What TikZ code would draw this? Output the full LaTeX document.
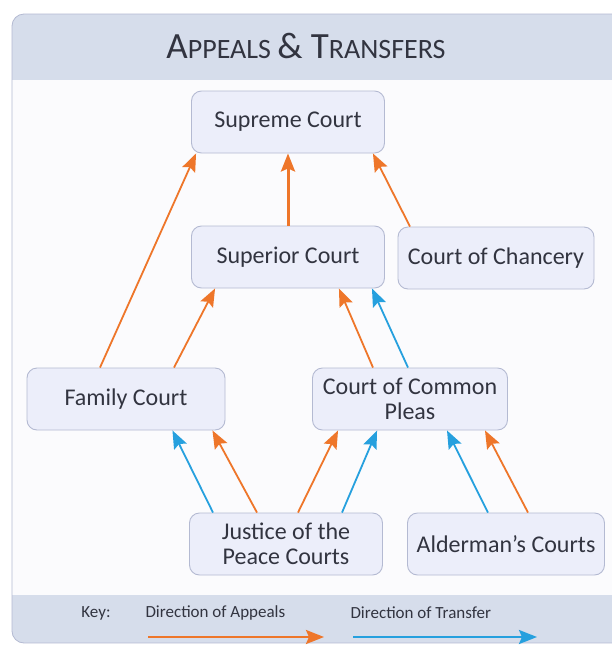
\documentclass[tikz,border=0pt]{standalone}
\usepackage{fontspec}
\setmainfont{Carlito}
\usetikzlibrary{arrows.meta}
\definecolor{boxfill}{RGB}{236,238,250}
\definecolor{boxline}{RGB}{180,186,210}
\definecolor{bandfill}{RGB}{214,221,235}
\definecolor{panelfill}{RGB}{251,251,253}
\definecolor{appealcol}{RGB}{238,118,42}
\definecolor{transfercol}{RGB}{38,160,222}
\definecolor{textcol}{RGB}{50,52,64}

\begin{document}
\begin{tikzpicture}[x=1pt,y=-1pt,
    court/.style={draw=boxline,fill=boxfill,rounded corners=10pt,line width=0.9pt,
      minimum width=193pt,minimum height=62pt,align=center,text=textcol,
      font=\fontsize{24}{25}\selectfont},
    appeal/.style={draw=appealcol,line width=1.8pt,-{Stealth[length=18pt,width=14pt,inset=3pt]}},
    transfer/.style={draw=transfercol,line width=1.8pt,-{Stealth[length=18pt,width=14pt,inset=3pt]}}]
    \clip (0,0) rectangle (612,646);
    % panel and bands
    \fill[white] (0,0) rectangle (612,646);
    \begin{scope}
        \clip[rounded corners=12pt] (12,14) rectangle (640,643);
        \fill[panelfill] (12,14) rectangle (640,643);
        \fill[bandfill] (12,14) rectangle (640,80);
        \fill[bandfill] (12,595) rectangle (640,643);
    \end{scope}
    \draw[rounded corners=12pt,draw=boxline,line width=0.8pt] (12,14) rectangle (640,643);
    \node[text=textcol] (title) at (306,46)
        {\fontsize{37}{38}\selectfont A\fontsize{28}{38}\selectfont PPEALS \fontsize{37}{38}\selectfont\&
         T\fontsize{28}{38}\selectfont RANSFERS};
    % courts
    \node[court] (sup) at (288,122) {Supreme Court};
    \node[court] (spr) at (288,257) {Superior Court};
    \node[court,minimum width=196pt] (chan) at (496,258) {Court of Chancery};
    \node[court,minimum width=198pt] (fam) at (126,399) {Family Court};
    \node[court,minimum width=195pt] (ccp) at (410,399) {Court of Common\\Pleas};
    \node[court] (jp) at (286,544) {Justice of the\\Peace Courts};
    \node[court,minimum width=197pt] (ald) at (506,544) {Alderman's Courts};
    % appeals and transfers
    \draw[appeal] ([xshift=-26pt]fam.north) -- ([xshift=5pt]sup.south west);
    \draw[appeal,line width=3pt] (spr.north) -- (sup.south);
    \draw[appeal] ([xshift=-86pt]chan.north) -- ([xshift=-12pt]sup.south east);
    \draw[appeal] ([xshift=48pt]fam.north) -- ([xshift=24pt]spr.south west);
    \draw[appeal] ([xshift=-37pt]ccp.north) -- ([xshift=-46pt]spr.south east);
    \draw[transfer] ([xshift=-2pt]ccp.north) -- ([xshift=-13pt]spr.south east);
    \draw[transfer] ([xshift=-73pt]jp.north) -- ([xshift=-53pt]fam.south east);
    \draw[appeal] ([xshift=-29pt]jp.north) -- ([xshift=-13pt]fam.south east);
    \draw[appeal] ([xshift=12pt]jp.north) -- ([xshift=26pt]ccp.south west);
    \draw[transfer] ([xshift=56pt]jp.north) -- ([xshift=65pt]ccp.south west);
    \draw[transfer] ([xshift=-18pt]ald.north) -- ([xshift=37pt]ccp.south);
    \draw[appeal] ([xshift=22pt]ald.north) -- ([xshift=75pt]ccp.south);
    % key
    \node[text=textcol,font=\fontsize{17}{18}\selectfont] (key) at (96,613) {Key:};
    \node[text=textcol,font=\fontsize{17}{18}\selectfont,anchor=west] (appkey) at (142,613) {Direction of Appeals};
    \node[text=textcol,font=\fontsize{17}{18}\selectfont,anchor=west] (trkey) at (347,613) {Direction of Transfer};
    \coordinate (appA) at (148,637);
    \coordinate (appB) at (324,637);
    \coordinate (trA) at (353,637);
    \coordinate (trB) at (537,637);
    \draw[appeal,line width=2.5pt] (appA) -- (appB);
    \draw[transfer,line width=2.5pt] (trA) -- (trB);
\end{tikzpicture}
\end{document}
